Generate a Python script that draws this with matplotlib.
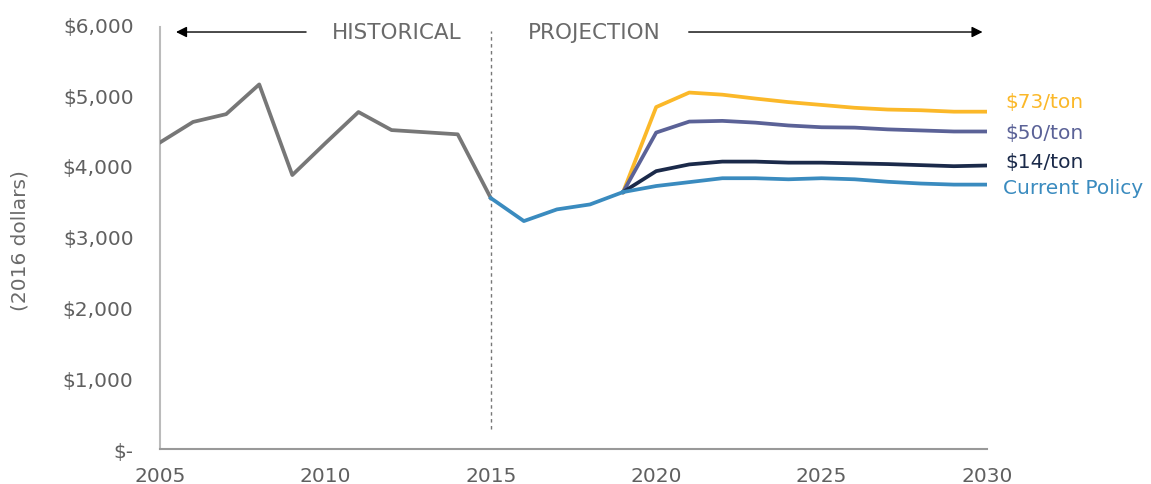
import matplotlib
matplotlib.use("Agg")
import matplotlib.pyplot as plt

# Historical cost per year (2016 dollars)
hist_years = list(range(2005, 2016))
hist_values = [4330, 4620, 4730, 5150, 3870, 4320, 4760, 4505, 4475, 4445, 3545]

# Shared projection path before scenarios diverge
base_years = [2015, 2016, 2017, 2018, 2019]
base_values = [3545, 3220, 3385, 3455, 3630]

proj_years = list(range(2019, 2031))
current_policy = [3630, 3715, 3770, 3825, 3825, 3810, 3825, 3810, 3775, 3750, 3735, 3735]
ton_14 = [3630, 3925, 4020, 4060, 4060, 4045, 4045, 4035, 4025, 4010, 3995, 4005]
ton_50 = [3630, 4470, 4625, 4635, 4610, 4570, 4545, 4540, 4515, 4500, 4485, 4485]
ton_73 = [3630, 4830, 5035, 5005, 4950, 4900, 4860, 4820, 4795, 4785, 4765, 4765]

scenario_labels = ["$73/ton", "$50/ton", "$14/ton", "Current Policy"]
scenario_colors = ["#fbb829", "#5b6297", "#1b2a4a", "#3a8bbf"]

y_ticks = [0, 1000, 2000, 3000, 4000, 5000, 6000]
y_tick_labels = ["$-", "$1,000", "$2,000", "$3,000", "$4,000", "$5,000", "$6,000"]
x_ticks = [2005, 2010, 2015, 2020, 2025, 2030]

plt.rcParams["font.family"] = ["DejaVu Sans"]
plt.rcParams["text.parse_math"] = False

fig = plt.figure(figsize=(11.51, 4.85), dpi=100)
ax = fig.add_axes([0.139, 0.072, 0.7185, 0.876])

lw = 2.7
ax.plot(hist_years, hist_values, color="#777777", lw=lw, zorder=3)
ax.plot(base_years, base_values, color="#3a8bbf", lw=lw, zorder=4)
series = [ton_73, ton_50, ton_14, current_policy]
for vals, col in zip(series, scenario_colors):
    ax.plot(proj_years, vals, color=col, lw=lw, zorder=3)

ax.set_xlim(2005, 2030)
ax.set_ylim(0, 6000)
ax.set_xticks(x_ticks)
ax.set_xticklabels([str(x) for x in x_ticks])
ax.set_yticks(y_ticks)
ax.set_yticklabels(y_tick_labels)
ax.tick_params(axis="both", length=0, labelsize=14.5, colors="#606060")
ax.tick_params(axis="y", pad=19)
ax.tick_params(axis="x", pad=12)

for side in ("top", "right"):
    ax.spines[side].set_visible(False)
ax.spines["left"].set_color("#bbbbbb")
ax.spines["left"].set_linewidth(1.5)
ax.spines["left"].set_bounds(0, 5960)
ax.spines["bottom"].set_color("#999999")
ax.spines["bottom"].set_linewidth(1.5)

fig.text(20 / 1151, 0.505, "(2016 dollars)", rotation=90, ha="center", va="center",
         fontsize=14.5, color="#6a6a6a")

# Divider between historical and projected periods
ax.plot([2015, 2015], [280, 5900], color="#777777", lw=1, ls=(0, (2.5, 2.5)), zorder=2)

# Period annotations
ax.text(2012.15, 5890, "HISTORICAL", ha="center", va="center", fontsize=15.5,
        color="#6a6a6a")
ax.text(2018.12, 5890, "PROJECTION", ha="center", va="center", fontsize=15.5,
        color="#6a6a6a")
ax.annotate("", xy=(2005.4, 5890), xytext=(2009.5, 5890),
            arrowprops=dict(arrowstyle="-|>", color="black", lw=1, mutation_scale=16))
ax.annotate("", xy=(2029.95, 5890), xytext=(2020.9, 5890),
            arrowprops=dict(arrowstyle="-|>", color="black", lw=1, mutation_scale=16))

# End-of-line scenario labels
label_y = [4915, 4477, 4068, 3700]
label_x = [2030.55, 2030.55, 2030.55, 2030.48]
for txt, col, yv, xv in zip(scenario_labels, scenario_colors, label_y, label_x):
    ax.text(xv, yv, txt, ha="left", va="center", fontsize=14.5, color=col, clip_on=False)

fig.savefig("out.png", dpi=100)
